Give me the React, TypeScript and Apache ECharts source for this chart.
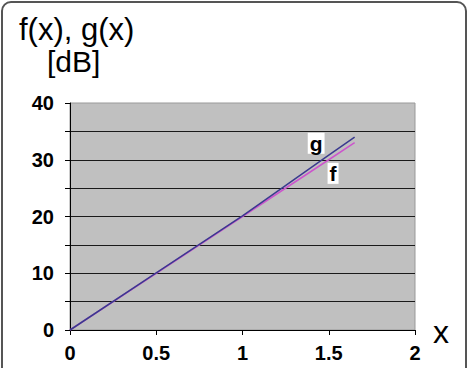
import React, { useEffect, useRef } from "react";
import * as echarts from "echarts";

const xTicks = [0, 0.5, 1, 1.5, 2];
const yTickLabels = [0, 10, 20, 30, 40];
const fData: [number, number][] = [
  [0, 0],
  [0.5, 10],
  [1, 20],
  [1.5, 30],
  [1.65, 33],
];
const gData: [number, number][] = [
  [0, 0],
  [0.5, 10.05],
  [1, 20.1],
  [1.5, 30.8],
  [1.65, 34],
];
const fLabelAt: [number, number] = [1.525, 27.6];
const gLabelAt: [number, number] = [1.427, 32.9];

export default function App() {
  const ref = useRef<HTMLDivElement>(null);
  useEffect(() => {
    if (!ref.current) return;
    const chart = echarts.init(ref.current, undefined, { renderer: "svg" });
    const font = "Liberation Sans, Arial, sans-serif";
    const labelStyle = (name: string) => ({
      show: true,
      formatter: name,
      color: "#000",
      fontFamily: font,
      fontWeight: "bold" as const,
      fontSize: 21,
      backgroundColor: "#fff",
      padding: [0, 2, 0, 2],
    });
    chart.setOption({
      animation: false,
      backgroundColor: "#fff",
      grid: {
        left: 70,
        right: 54,
        top: 103,
        bottom: 38,
        show: true,
        backgroundColor: "#c0c0c0",
        borderColor: "#999",
        borderWidth: 1,
      },
      xAxis: {
        type: "value",
        min: xTicks[0],
        max: xTicks[xTicks.length - 1],
        interval: 0.5,
        axisLine: { show: true, onZero: false, lineStyle: { color: "#000", width: 1 } },
        axisTick: { show: true, length: 5, lineStyle: { color: "#000" } },
        splitLine: { show: false },
        axisLabel: {
          color: "#000",
          fontFamily: font,
          fontWeight: "bold",
          fontSize: 20,
          margin: 13,
          formatter: (v: number) => String(v),
        },
      },
      yAxis: {
        type: "value",
        min: yTickLabels[0],
        max: yTickLabels[yTickLabels.length - 1],
        interval: 5,
        axisLine: { show: true, lineStyle: { color: "#000", width: 1 } },
        axisTick: { show: true, length: 5, lineStyle: { color: "#000" } },
        splitLine: {
          show: true,
          showMaxLine: false,
          showMinLine: false,
          lineStyle: { color: "#1a1a1a", width: 1.2 },
        },
        axisLabel: {
          color: "#000",
          fontFamily: font,
          fontWeight: "bold",
          fontSize: 20,
          margin: 16,
          formatter: (v: number) => (yTickLabels.includes(v) ? String(v) : ""),
        },
      },
      series: [
        {
          name: "f",
          type: "line",
          data: fData,
          showSymbol: false,
          symbol: "none",
          lineStyle: { color: "#cc55cc", width: 1.5 },
          markPoint: {
            symbol: "circle",
            symbolSize: 0,
            data: [{ coord: fLabelAt, label: labelStyle("f") }],
            label: { position: "inside" },
          },
          z: 3,
        },
        {
          name: "g",
          type: "line",
          data: gData,
          showSymbol: false,
          symbol: "none",
          lineStyle: { color: "#3a3a8f", width: 1.5 },
          markPoint: {
            symbol: "circle",
            symbolSize: 0,
            data: [{ coord: gLabelAt, label: labelStyle("g") }],
            label: { position: "inside" },
          },
          z: 4,
        },
      ],
      graphic: [
        {
          type: "rect",
          shape: { x: 2, y: 2, width: 464, height: 380, r: 9 },
          style: { fill: "none", stroke: "#555", lineWidth: 2 },
          z: -1,
        },
        {
          type: "text",
          x: 19,
          y: 14,
          style: { text: "f(x), g(x)", fontFamily: font, fontSize: 31, fill: "#000" },
        },
        {
          type: "text",
          x: 47,
          y: 46,
          style: { text: "[dB]", fontFamily: font, fontSize: 30, fill: "#000" },
        },
        {
          type: "text",
          x: 433,
          y: 316,
          style: { text: "x", fontFamily: font, fontSize: 32, fill: "#000" },
        },
      ],
    });
    return () => chart.dispose();
  }, []);
  return (
    <div
      ref={ref}
      style={{ position: "fixed", left: 0, top: 0, width: 469, height: 368 }}
    />
  );
}
